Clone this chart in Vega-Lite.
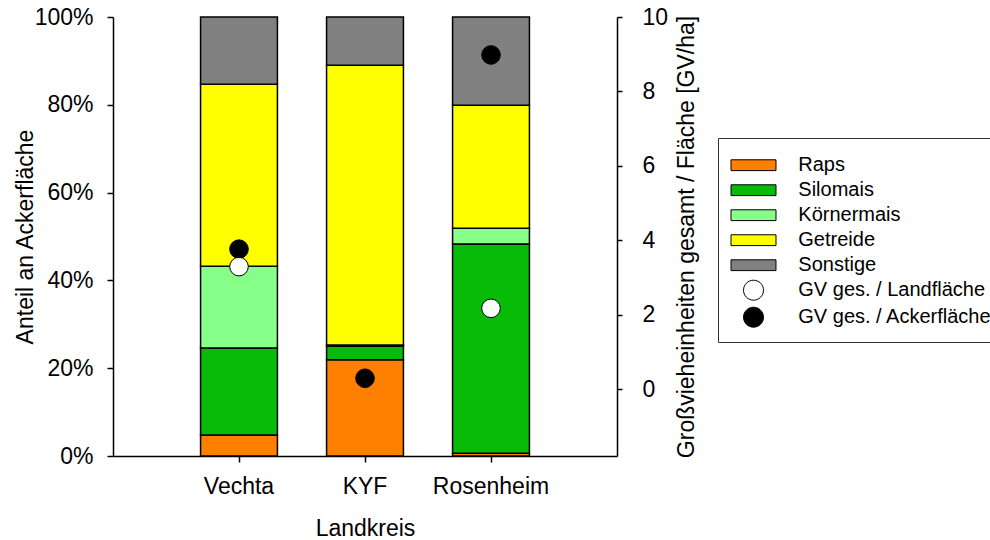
{
  "$schema": "https://vega.github.io/schema/vega-lite/v6.json",
  "width": 504,
  "height": 439,
  "autosize": {"type": "none"},
  "padding": {"left": 113, "top": 17, "right": 373, "bottom": 84},
  "config": {
    "view": {"stroke": null},
    "font": "Liberation Sans",
    "axis": {
      "labelFont": "Liberation Sans",
      "titleFont": "Liberation Sans",
      "labelFontSize": 23,
      "titleFontSize": 23,
      "titleFontWeight": "normal",
      "labelColor": "black",
      "titleColor": "black",
      "domainColor": "black",
      "tickColor": "black",
      "domainWidth": 1.5,
      "tickWidth": 1.5,
      "grid": false
    }
  },
  "datasets": {
    "bars": [
      {"Landkreis": "Vechta", "kategorie": "Raps", "ord": 1, "anteil": 4.8},
      {"Landkreis": "Vechta", "kategorie": "Silomais", "ord": 2, "anteil": 19.8},
      {"Landkreis": "Vechta", "kategorie": "Körnermais", "ord": 3, "anteil": 18.6},
      {"Landkreis": "Vechta", "kategorie": "Getreide", "ord": 4, "anteil": 41.5},
      {"Landkreis": "Vechta", "kategorie": "Sonstige", "ord": 5, "anteil": 15.3},
      {"Landkreis": "KYF", "kategorie": "Raps", "ord": 1, "anteil": 21.9},
      {"Landkreis": "KYF", "kategorie": "Silomais", "ord": 2, "anteil": 3.1},
      {"Landkreis": "KYF", "kategorie": "Körnermais", "ord": 3, "anteil": 0.3},
      {"Landkreis": "KYF", "kategorie": "Getreide", "ord": 4, "anteil": 63.7},
      {"Landkreis": "KYF", "kategorie": "Sonstige", "ord": 5, "anteil": 11.0},
      {"Landkreis": "Rosenheim", "kategorie": "Raps", "ord": 1, "anteil": 0.6},
      {"Landkreis": "Rosenheim", "kategorie": "Silomais", "ord": 2, "anteil": 47.7},
      {"Landkreis": "Rosenheim", "kategorie": "Körnermais", "ord": 3, "anteil": 3.6},
      {"Landkreis": "Rosenheim", "kategorie": "Getreide", "ord": 4, "anteil": 28.0},
      {"Landkreis": "Rosenheim", "kategorie": "Sonstige", "ord": 5, "anteil": 20.1}
    ],
    "points": [
      {"Landkreis": "Vechta", "kategorie": "GV ges. / Ackerfläche", "gv": 3.76},
      {"Landkreis": "KYF", "kategorie": "GV ges. / Ackerfläche", "gv": 0.29},
      {"Landkreis": "Rosenheim", "kategorie": "GV ges. / Ackerfläche", "gv": 8.98},
      {"Landkreis": "Vechta", "kategorie": "GV ges. / Landfläche", "gv": 3.29},
      {"Landkreis": "Rosenheim", "kategorie": "GV ges. / Landfläche", "gv": 2.17}
    ]
  },
  "layer": [
    {
      "data": {"name": "bars"},
      "mark": {"type": "bar", "stroke": "black", "strokeWidth": 1.5},
      "encoding": {
        "x": {
          "field": "Landkreis",
          "type": "nominal",
          "sort": ["Vechta", "KYF", "Rosenheim"],
          "scale": {"paddingInner": 0.39, "paddingOuter": 0.695},
          "axis": {
            "title": "Landkreis",
            "labelAngle": 0,
            "tickSize": 6,
            "labelPadding": 13,
            "titlePadding": 19
          }
        },
        "y": {
          "field": "anteil",
          "type": "quantitative",
          "stack": "zero",
          "scale": {"domain": [0, 100]},
          "axis": {
            "title": "Anteil an Ackerfläche",
            "values": [0, 20, 40, 60, 80, 100],
            "labelExpr": "datum.value + '%'",
            "tickSize": 6,
            "labelPadding": 14,
            "titlePadding": -3
          }
        },
        "fill": {
          "field": "kategorie",
          "type": "nominal",
          "scale": {
            "domain": ["Raps", "Silomais", "Körnermais", "Getreide", "Sonstige", "GV ges. / Landfläche", "GV ges. / Ackerfläche"],
            "range": ["#ff8000", "#08bb08", "#88ff88", "#ffff00", "#808080", "#ffffff", "#000000"]
          },
          "legend": {
            "title": null,
            "orient": "none",
            "legendX": 605,
            "legendY": 121,
            "padding": 12.7,
            "strokeColor": "#333333",
            "fillColor": "white",
            "labelFont": "Liberation Sans",
            "labelFontSize": 20,
            "labelColor": "black",
            "labelLimit": 0,
            "labelOffset": 30.3,
            "symbolOffset": 8.3,
            "rowPadding": 0,
            "symbolSize": 784,
            "symbolStrokeColor": "black",
            "symbolStrokeWidth": 1,
            "encode": {
              "symbols": {
                "update": {
                  "shape": {"signal": "indexof(datum.value, 'GV') === 0 ? 'M-0.714,0A0.714,0.714,0,1,1,0.714,0A0.714,0.714,0,1,1,-0.714,0Z' : 'M-1.607,-0.386H1.607V0.386H-1.607Z'"},
                  "stroke": {"value": "black"},
                  "strokeWidth": {"value": 1},
                  "opacity": {"value": 1}
                }
              }
            }
          }
        },
        "order": {"field": "ord", "type": "quantitative"}
      }
    },
    {
      "data": {"name": "points"},
      "mark": {"type": "point", "shape": "circle", "filled": true, "stroke": "black", "strokeWidth": 1, "size": 346, "opacity": 1},
      "encoding": {
        "x": {"field": "Landkreis", "type": "nominal", "sort": ["Vechta", "KYF", "Rosenheim"]},
        "y": {
          "field": "gv",
          "type": "quantitative",
          "scale": {"domain": [-1.8, 10]},
          "axis": {
            "orient": "right",
            "title": "Großvieheinheiten gesamt / Fläche [GV/ha]",
            "values": [0, 2, 4, 6, 8, 10],
            "tickSize": 5,
            "labelPadding": 20,
            "titlePadding": 8,
            "titleAngle": -90,
            "titleBaseline": "top"
          }
        },
        "fill": {"field": "kategorie", "type": "nominal"}
      }
    }
  ],
  "resolve": {"scale": {"y": "independent"}}
}
